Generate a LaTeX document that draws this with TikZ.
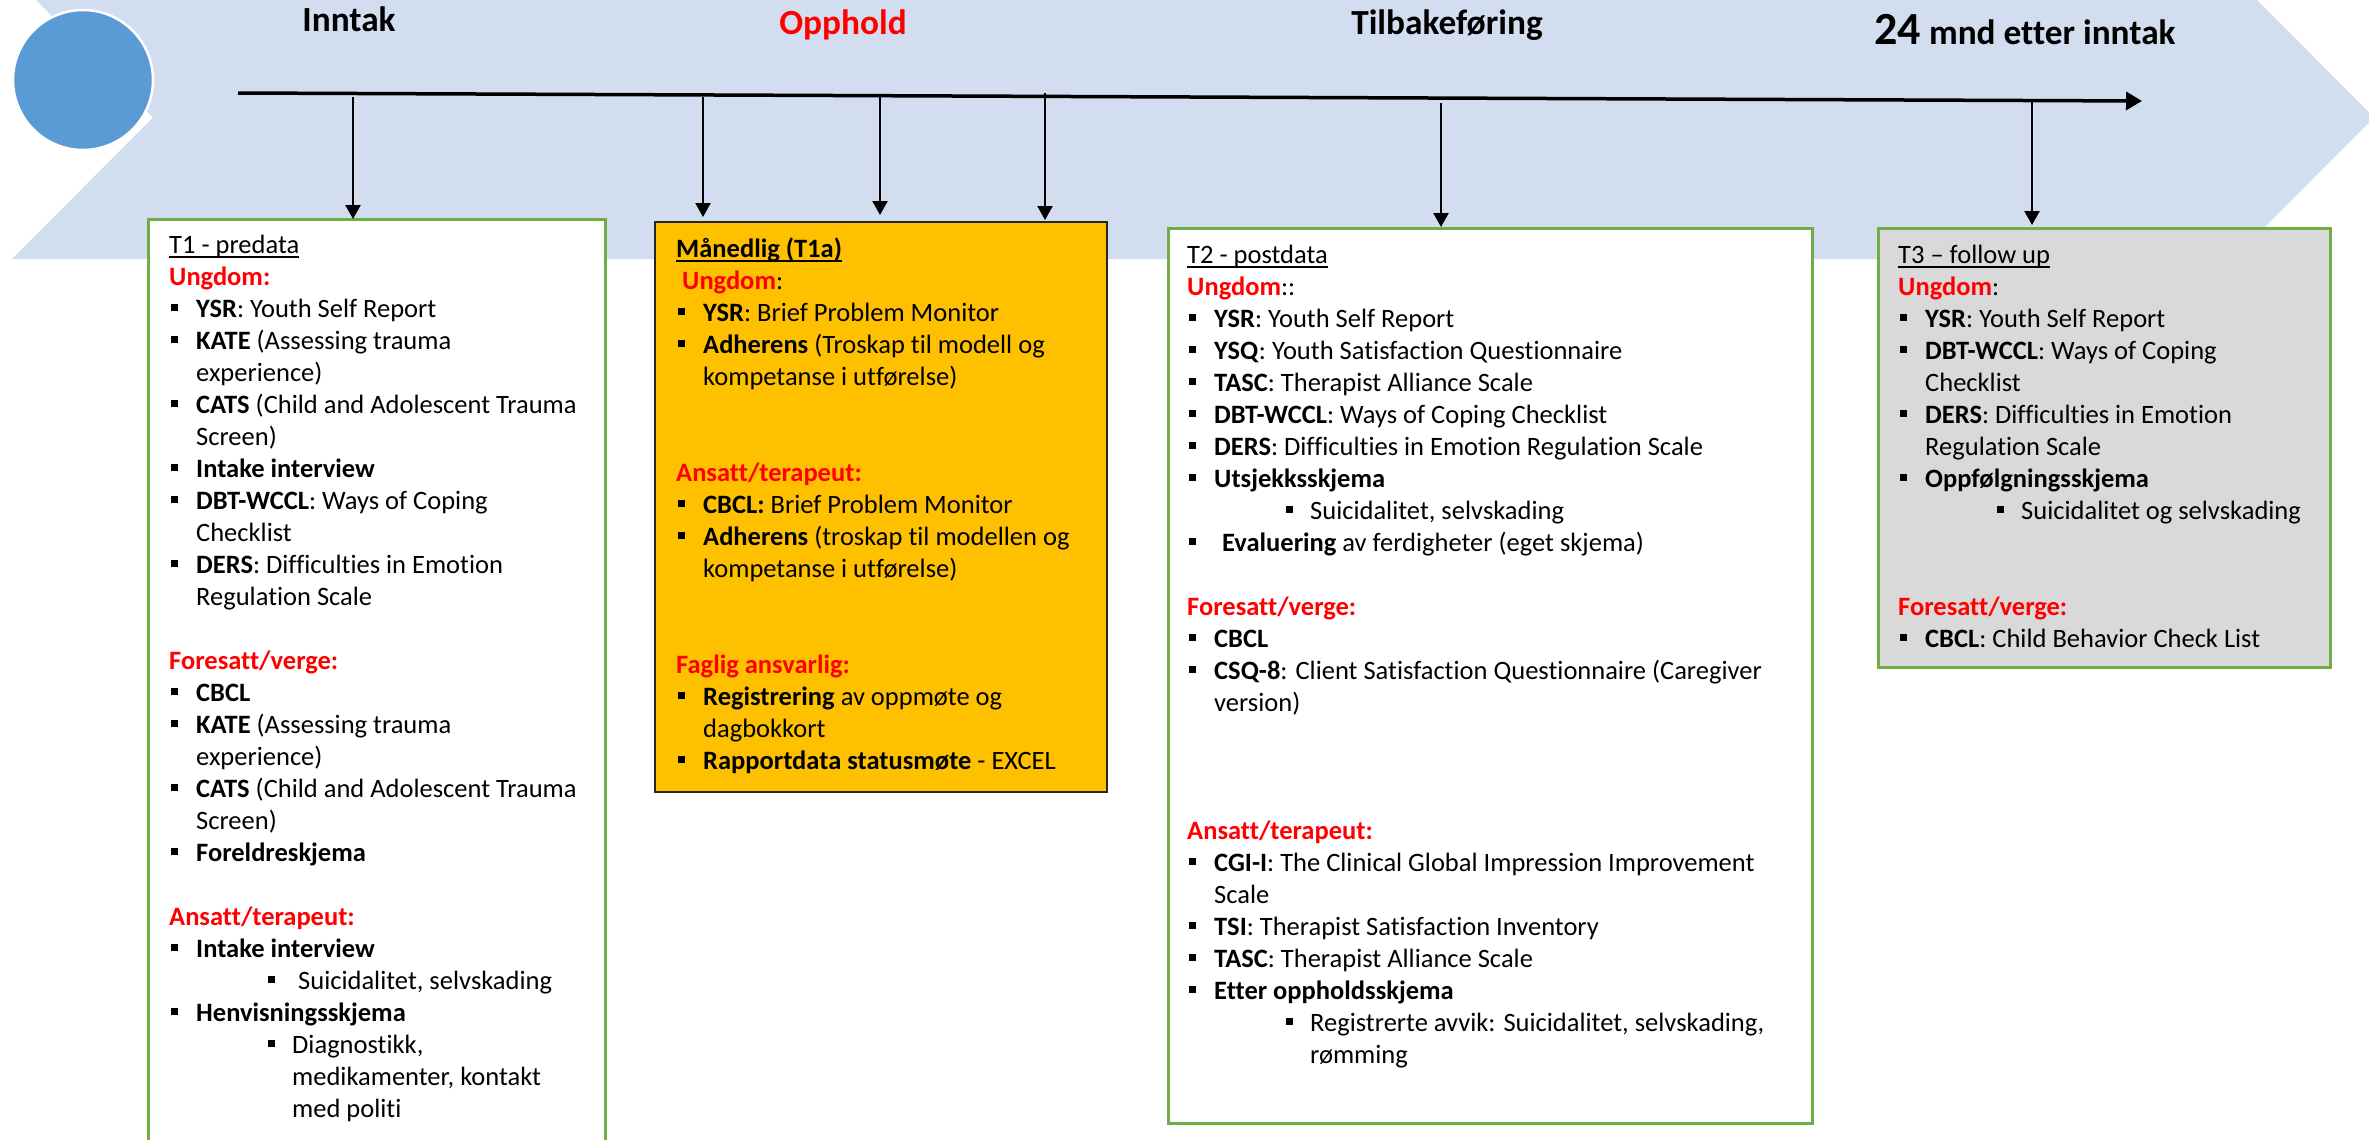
\documentclass[tikz,border=0pt]{standalone}
\usepackage{fontspec}
\setmainfont{Carlito}[Ligatures=NoCommon]
\usetikzlibrary{arrows.meta}

\definecolor{bandblue}{HTML}{D2DEEF}
\definecolor{dotblue}{HTML}{5B9BD5}
\definecolor{boxgreen}{HTML}{70AD47}
\definecolor{amber}{HTML}{FFC000}
\definecolor{panelgrey}{HTML}{D9D9D9}
\definecolor{darkrim}{HTML}{262626}
\definecolor{alertred}{HTML}{FF0000}

% list helpers: one call = one printed line
\newcommand\bxul[1]{\leavevmode\setbox0\hbox{#1}\rlap{\rule[-5pt]{\wd0}{1.6pt}}\box0}
\newcommand\bxred[1]{\textcolor{alertred}{\textbf{#1}}}
\newcommand\bxrow[1]{\leavevmode#1\par}
\newcommand\bxgap{\mbox{}\par}
\newcommand\bxbul[1]{\hspace*{2pt}\makebox[25pt][l]{\rule[6pt]{7pt}{7pt}}#1\par}
\newcommand\bxcont[1]{\hspace*{27pt}#1\par}
\newcommand\bxsub[1]{\hspace*{99pt}\makebox[24pt][l]{\rule[6pt]{7pt}{7pt}}#1\par}
\newcommand\bxsubc[1]{\hspace*{123pt}#1\par}
\newcommand\bxpanel[1]{\begin{minipage}[t]{700pt}\raggedright\setlength{\parskip}{0pt}%
  \fontsize{26.5pt}{32pt}\selectfont #1\end{minipage}}

\begin{document}
\begin{tikzpicture}[x=1pt,y=-1pt,
  band/.style={fill=bandblue},
  dot/.style={circle, fill=dotblue, draw=white, line width=2.5pt, minimum size=140pt, inner sep=0pt},
  timeline/.style={line width=3.5pt, -{Triangle[length=16pt,width=18pt]}},
  drop/.style={line width=2.3pt, -{Triangle[length=14pt,width=15pt]}},
  panel/.style={rectangle, inner sep=0pt, outer sep=0pt, anchor=north west},
  greenpanel/.style={panel, draw=boxgreen, line width=3pt, fill=white},
  amberpanel/.style={panel, draw=darkrim, line width=2pt, fill=amber},
  greypanel/.style={panel, draw=boxgreen, line width=3pt, fill=panelgrey},
  phase/.style={anchor=base, inner sep=0pt, font=\fontsize{35.3pt}{40pt}\selectfont\bfseries},
  content/.style={anchor=base west, inner sep=0pt}
]
\useasboundingbox (0,0) rectangle (2369,1140);
\clip (0,0) rectangle (2369,1140);

% background chevron band
\fill[band] (12,-24) -- (2233,-24) -- (2374,117.5) -- (2233,259) -- (12,259) -- (153,117.5) -- cycle;
\node[dot] (badge) at (83,80) {};

% phase titles
\node[phase] (inntak) at (349,32) {Inntak};
\node[phase, text=alertred] (opphold) at (843,35) {Opphold};
\node[phase] (tilbake) at (1447,35) {Tilbakeføring};
\node[phase] (etter) at (2025,45) {{\fontsize{46pt}{50pt}\selectfont 24} mnd etter inntak};

% time axis
\coordinate (tlA) at (238,93);
\coordinate (tlB) at (2142,101);
\draw[timeline] (tlA) -- (tlB);

% panels
\node[greenpanel, minimum width=457pt, minimum height=935pt] (t1box) at (148,219) {};
\node[amberpanel, minimum width=452pt, minimum height=570pt] (mbox) at (655,222) {};
\node[greenpanel, minimum width=644pt, minimum height=895pt] (t2box) at (1168,228) {};
\node[greypanel, minimum width=452pt, minimum height=439pt] (t3box) at (1878,228) {};

% drops from the axis
\coordinate (d1) at (353,97);
\coordinate (d2) at (703,97);
\coordinate (d3) at (880,97);
\coordinate (d4) at (1045,93);
\coordinate (d5) at (1441,103);
\coordinate (d6) at (2032,102);
\draw[drop] (d1) -- (d1 |- t1box.north);
\draw[drop, shorten >=5pt] (d2) -- (d2 |- mbox.north);
\draw[drop, shorten >=7pt] (d3) -- (d3 |- mbox.north);
\draw[drop, shorten >=2pt] (d4) -- (d4 |- mbox.north);
\draw[drop, shorten >=1pt] (d5) -- (d5 |- t2box.north);
\draw[drop, shorten >=3pt] (d6) -- (d6 |- t3box.north);

% T1
\node[content] (t1text) at (169,253) {\bxpanel{%
\bxrow{\bxul{T1 - predata}}
\bxrow{\bxred{Ungdom:}}
\bxbul{\textbf{YSR}: Youth Self Report}
\bxbul{\textbf{KATE} (Assessing trauma}
\bxcont{experience)}
\bxbul{\textbf{CATS} (Child and Adolescent Trauma}
\bxcont{Screen)}
\bxbul{\textbf{Intake interview}}
\bxbul{\textbf{DBT-WCCL}: Ways of Coping}
\bxcont{Checklist}
\bxbul{\textbf{DERS}: Difficulties in Emotion}
\bxcont{Regulation Scale}
\bxgap
\bxrow{\bxred{Foresatt/verge:}}
\bxbul{\textbf{CBCL}}
\bxbul{\textbf{KATE} (Assessing trauma}
\bxcont{experience)}
\bxbul{\textbf{CATS} (Child and Adolescent Trauma}
\bxcont{Screen)}
\bxbul{\textbf{Foreldreskjema}}
\bxgap
\bxrow{\bxred{Ansatt/terapeut:}}
\bxbul{\textbf{Intake interview}}
\bxsub{\hspace*{6pt}Suicidalitet, selvskading}
\bxbul{\textbf{Henvisningsskjema}}
\bxsub{Diagnostikk,}
\bxsubc{medikamenter, kontakt}
\bxsubc{med politi}
}};

% monthly
\node[content] (mtext) at (676,257) {\bxpanel{%
\bxrow{\textbf{\bxul{Månedlig (T1a)}}}
\bxrow{\hspace*{6pt}\bxred{Ungdom}:}
\bxbul{\textbf{YSR}: Brief Problem Monitor}
\bxbul{\textbf{Adherens} (Troskap til modell og}
\bxcont{kompetanse i utførelse)}
\bxgap
\bxgap
\bxrow{\bxred{Ansatt/terapeut:}}
\bxbul{\textbf{CBCL:} Brief Problem Monitor}
\bxbul{\textbf{Adherens} (troskap til modellen og}
\bxcont{kompetanse i utførelse)}
\bxgap
\bxgap
\bxrow{\bxred{Faglig ansvarlig:}}
\bxbul{\textbf{Registrering} av oppmøte og}
\bxcont{dagbokkort}
\bxbul{\textbf{Rapportdata statusmøte} - EXCEL}
}};

% T2
\node[content] (t2text) at (1187,263) {\bxpanel{%
\bxrow{\bxul{T2 - postdata}}
\bxrow{\bxred{Ungdom}::}
\bxbul{\textbf{YSR}: Youth Self Report}
\bxbul{\textbf{YSQ}: Youth Satisfaction Questionnaire}
\bxbul{\textbf{TASC}: Therapist Alliance Scale}
\bxbul{\textbf{DBT-WCCL}: Ways of Coping Checklist}
\bxbul{\textbf{DERS}: Difficulties in Emotion Regulation Scale}
\bxbul{\textbf{Utsjekksskjema}}
\bxsub{Suicidalitet, selvskading}
\bxbul{\hspace*{8pt}\textbf{Evaluering} av ferdigheter (eget skjema)}
\bxgap
\bxrow{\bxred{Foresatt/verge:}}
\bxbul{\textbf{CBCL}}
\bxbul{\textbf{CSQ-8}: Client Satisfaction Questionnaire (Caregiver}
\bxcont{version)}
\bxgap
\bxgap
\bxgap
\bxrow{\bxred{Ansatt/terapeut:}}
\bxbul{\textbf{CGI-I}: The Clinical Global Impression Improvement}
\bxcont{Scale}
\bxbul{\textbf{TSI}: Therapist Satisfaction Inventory}
\bxbul{\textbf{TASC}: Therapist Alliance Scale}
\bxbul{\textbf{Etter oppholdsskjema}}
\bxsub{Registrerte avvik: Suicidalitet, selvskading,}
\bxsubc{rømming}
}};

% T3
\node[content] (t3text) at (1898,263) {\bxpanel{%
\bxrow{\bxul{T3 – follow up}}
\bxrow{\bxred{Ungdom}:}
\bxbul{\textbf{YSR}: Youth Self Report}
\bxbul{\textbf{DBT-WCCL}: Ways of Coping}
\bxcont{Checklist}
\bxbul{\textbf{DERS}: Difficulties in Emotion}
\bxcont{Regulation Scale}
\bxbul{\textbf{Oppfølgningsskjema}}
\bxsub{Suicidalitet og selvskading}
\bxgap
\bxgap
\bxrow{\bxred{Foresatt/verge:}}
\bxbul{\textbf{CBCL}: Child Behavior Check List}
}};
\end{tikzpicture}
\end{document}
